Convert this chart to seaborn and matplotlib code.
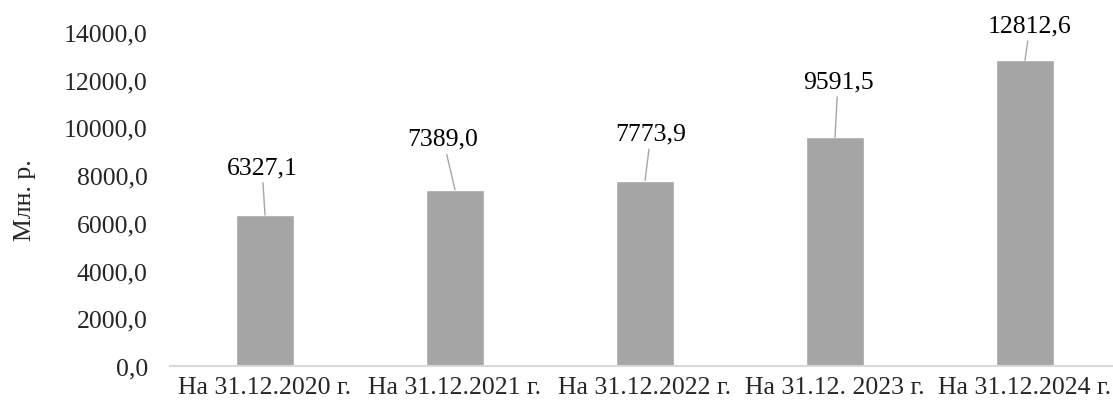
import matplotlib
matplotlib.use('Agg')
import matplotlib.pyplot as plt
from matplotlib.ticker import FuncFormatter, MultipleLocator
import seaborn as sns
import pandas as pd

# данные
periods = ['На 31.12.2020 г.', 'На 31.12.2021 г.', 'На 31.12.2022 г.',
           'На 31.12. 2023 г.', 'На 31.12.2024 г.']
values = [6327.1, 7389.0, 7773.9, 9591.5, 12812.6]

# смещение подписей от вершины столбца (px)
label_off = [(-3, 48), (-12, 51), (6, 47), (3, 56), (5, 35)]

df = pd.DataFrame({'period': periods, 'value': values})

sns.set_style('white')
plt.rcParams['font.family'] = ['Liberation Serif', 'DejaVu Serif']

fig = plt.figure(figsize=(11.13, 4.10), dpi=100)
ax = fig.add_axes([170 / 1113, 43 / 410, 943 / 1113, 334 / 410])

sns.barplot(data=df, x='period', y='value', color='#A5A5A5', width=0.31,
            saturation=1, ax=ax)

fmt = lambda v: f'{v:.1f}'.replace('.', ',')

for i, v in enumerate(values):
    dx, dy = label_off[i]
    ax.annotate(fmt(v), xy=(i, v), xytext=(dx * 0.72, dy * 0.72),
                textcoords='offset points', ha='center', va='center',
                fontsize=18.5, color='black',
                arrowprops=dict(arrowstyle='-', color='#A6A6A6', lw=1,
                                shrinkA=1, shrinkB=0))

ax.set_ylim(0, 14000)
ax.set_xlim(-0.5, -0.5 + 943 / 190)
ax.yaxis.set_major_locator(MultipleLocator(2000))
ax.yaxis.set_major_formatter(FuncFormatter(lambda v, p: fmt(v)))
ax.tick_params(axis='y', length=0, pad=16, labelsize=18.5)
ax.tick_params(axis='x', length=0, pad=7, labelsize=18.5)
ax.set_xlabel('')
ax.set_ylabel('Млн. р.', fontsize=18.5, labelpad=20)

for s in ['top', 'right', 'left']:
    ax.spines[s].set_visible(False)
ax.spines['bottom'].set_color('#D9D9D9')
ax.spines['bottom'].set_linewidth(1.5)

fig.savefig('out.png', dpi=100)
